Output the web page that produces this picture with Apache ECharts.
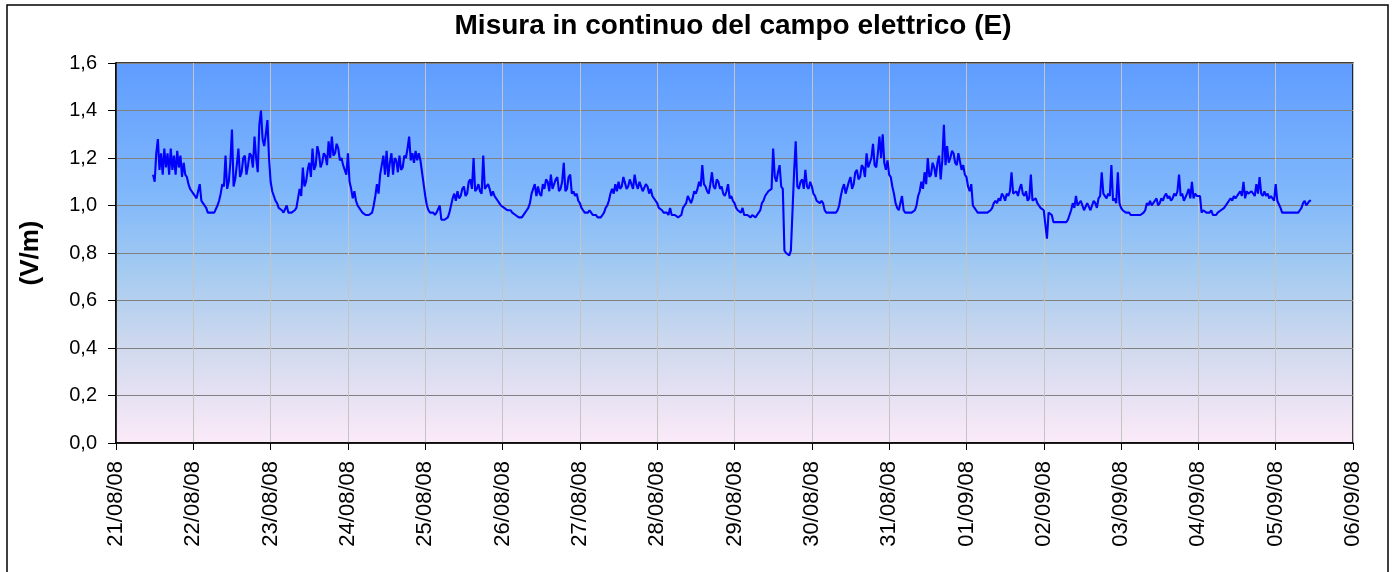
<!DOCTYPE html>
<html><head><meta charset="utf-8">
<script src="https://cdn.jsdelivr.net/npm/echarts@6/dist/echarts.min.js"></script>
<style>html,body{margin:0;padding:0;background:#fff}#c{width:1392px;height:572px}</style>
</head><body><div id="c"></div>
<script>
// ---- data (half-hourly readings, V/m; index = half-hour of the day) ----
const titleText = 'Misura in continuo del campo elettrico (E)';
const yAxisName = '(V/m)';
const dateLabels = ['21/08/08','22/08/08','23/08/08','24/08/08','25/08/08','26/08/08','27/08/08','28/08/08',
  '29/08/08','30/08/08','31/08/08','01/09/08','02/09/08','03/09/08','04/09/08','05/09/08','06/09/08'];

const d21_08 = [null,null,null,null,null,null,null,null,null,null,null,null,null,null,null,null,null,null,null,null,null,null,null,
  1.13, 1.10,1.22, 1.28,1.15, 1.22,1.13, 1.24,1.16, 1.22,1.13, 1.24,1.15, 1.21,1.13, 1.23,1.16, 1.21,1.12, 1.18,1.13, 1.12,1.09, 1.07,1.06];
const d22_08 = [1.05,1.04, 1.03,1.06, 1.09,1.02, 1.01,1.00, 0.99,0.97, 0.97,0.97, 0.97,0.97, 0.97,1.00,
  1.02,1.05, 1.09,1.08, 1.21,1.07, 1.10,1.18, 1.32,1.08, 1.11,1.17, 1.24,1.12, 1.14,1.20,
  1.21,1.13, 1.17,1.22, 1.21,1.16, 1.29,1.20, 1.14,1.34, 1.40,1.28, 1.25,1.30, 1.36,1.20];
const d23_08 = [1.10,1.06, 1.04,1.02, 1.01,0.99, 0.99,0.98, 0.97,0.97, 1.00,0.97, 0.97,0.97, 0.97,0.98,
  0.99,1.03, 1.07,1.04, 1.16,1.08, 1.10,1.15, 1.18,1.12, 1.24,1.15, 1.17,1.25, 1.22,1.16,
  1.18,1.22, 1.21,1.17, 1.27,1.20, 1.29,1.21, 1.22,1.26, 1.24,1.19, 1.20,1.17, 1.15,1.13];
const d24_08 = [1.22,1.10, 1.07,1.03, 1.06,1.02, 1.00,0.99, 0.98,0.97, 0.97,0.96, 0.96,0.96, 0.96,0.97,
  1.00,1.04, 1.09,1.05, 1.13,1.17, 1.21,1.13, 1.23,1.12, 1.18,1.22, 1.13,1.20, 1.19,1.14,
  1.21,1.15, 1.16,1.21, 1.20,1.24, 1.29,1.19, 1.22,1.18, 1.23,1.19, 1.22,1.19, 1.14,1.09];
const d25_08 = [1.04,1.00, 0.98,0.97, 0.97,0.97, 0.96,0.97, 0.97,1.00, 0.94,0.94, 0.94,0.94, 0.95,0.97,
  1.00,1.03, 1.05,1.02, 1.06,1.03, 1.04,1.07, 1.08,1.04, 1.05,1.10, 1.11,1.07, 1.20,1.06,
  1.07,1.09, 1.06,1.05, 1.21,1.07, 1.07,1.09, 1.07,1.04, 1.06,1.04, 1.03,1.02, 1.01,1.00];
const d26_08 = [1.00,0.99, 0.99,0.98, 0.98,0.98, 0.97,0.97, 0.96,0.96, 0.95,0.95, 0.95,0.95, 0.97,0.98,
  0.99,1.01, 1.05,1.07, 1.09,1.04, 1.08,1.05, 1.04,1.09, 1.07,1.11, 1.10,1.06, 1.13,1.07,
  1.07,1.11, 1.12,1.06, 1.07,1.10, 1.18,1.06, 1.07,1.12, 1.13,1.05, 1.06,1.04, 1.05,1.02];
const d27_08 = [1.01,0.99, 0.98,0.97, 0.97,0.97, 0.98,0.97, 0.96,0.96, 0.96,0.95, 0.95,0.95, 0.96,0.97,
  0.99,1.00, 1.02,1.05, 1.07,1.05, 1.09,1.06, 1.10,1.07, 1.08,1.12, 1.12,1.07, 1.08,1.11,
  1.11,1.07, 1.13,1.09, 1.07,1.10, 1.10,1.06, 1.06,1.09, 1.08,1.05, 1.07,1.04, 1.04,1.02];
const d28_08 = [1.01,0.99, 0.99,0.98, 0.97,0.97, 0.97,0.96, 0.99,0.96, 0.96,0.96, 0.96,0.95, 0.95,0.96,
  0.99,1.00, 1.01,1.04, 1.04,1.01, 1.03,1.06, 1.05,1.07, 1.10,1.08, 1.17,1.09, 1.08,1.06,
  1.05,1.09, 1.14,1.08, 1.07,1.11, 1.10,1.07, 1.08,1.05, 1.04,1.06, 1.09,1.03, 1.04,1.02];
const d29_08 = [1.01,0.99, 0.98,0.98, 0.97,0.99, 0.96,0.96, 0.96,0.96, 0.95,0.96, 0.96,0.95, 0.96,0.97,
  0.98,1.01, 1.02,1.04, 1.04,1.06, 1.06,1.07, 1.24,1.12, 1.10,1.14, 1.17,1.08, 1.07,0.81,
  0.80,0.80, 0.79,0.81, 0.81,1.14, 1.27,1.08, 1.07,1.10, 1.11,1.07, 1.15,1.08, 1.07,1.10];
const d30_08 = [1.08,1.05, 1.04,1.02, 1.02,1.01, 1.02,1.01, 0.98,0.97, 0.97,0.97, 0.97,0.97, 0.97,0.97,
  0.98,1.00, 1.04,1.07, 1.09,1.05, 1.05,1.10, 1.12,1.07, 1.09,1.14, 1.15,1.11, 1.12,1.17,
  1.16,1.12, 1.22,1.16, 1.18,1.20, 1.26,1.17, 1.16,1.22, 1.29,1.20, 1.30,1.18, 1.15,1.19];
const d31_08 = [1.13,1.12, 1.08,1.05, 1.01,0.99, 0.98,0.98, 1.04,0.98, 0.97,0.97, 0.97,0.97, 0.97,0.97,
  0.98,1.00, 1.04,1.06, 1.10,1.07, 1.14,1.09, 1.20,1.12, 1.13,1.18, 1.16,1.12, 1.18,1.21,
  1.11,1.19, 1.34,1.17, 1.25,1.18, 1.20,1.23, 1.22,1.18, 1.17,1.22, 1.22,1.15, 1.17,1.13];
const d01_09 = [1.12,1.08, 1.06,1.09, 1.00,0.99, 0.98,0.97, 0.97,0.97, 0.97,0.97, 0.97,0.97, 0.97,0.98,
  0.99,1.01, 1.02,1.01, 1.03,1.02, 1.05,1.04, 1.02,1.05, 1.04,1.06, 1.14,1.05, 1.05,1.06,
  1.04,1.07, 1.09,1.05, 1.04,1.06, 1.02,1.03, 1.13,1.02, 1.02,1.03, 1.01,1.00, 0.99,0.99];
const d02_09 = [0.98,0.98, 0.86,0.97, 0.97,0.96, 0.93,0.93, 0.93,0.93, 0.93,0.93, 0.93,0.93, 0.93,0.94,
  0.96,0.98, 1.01,0.99, 1.04,1.00, 1.00,1.02, 1.02,0.98, 0.98,1.01, 1.01,0.98, 0.98,1.02,
  1.01,0.99, 1.03,1.04, 1.14,1.05, 1.05,1.03, 1.05,1.04, 1.17,1.02, 1.03,1.01, 1.14,1.01];
const d03_09 = [0.99,0.98, 0.98,0.97, 0.97,0.97, 0.96,0.96, 0.96,0.96, 0.96,0.96, 0.96,0.96, 0.97,0.98,
  1.01,1.00, 1.02,1.00, 1.01,1.02, 1.03,1.00, 1.01,1.03, 1.02,1.04, 1.05,1.03, 1.04,1.02,
  1.03,1.05, 1.04,1.06, 1.13,1.04, 1.05,1.02, 1.02,1.05, 1.07,1.03, 1.10,1.03, 1.05,1.04];
const d04_09 = [1.04,1.04, 0.97,0.98, 0.98,0.97, 0.97,0.97, 0.98,0.96, 0.96,0.96, 0.97,0.97, 0.98,0.98,
  0.99,1.00, 1.01,1.02, 1.03,1.02, 1.04,1.03, 1.04,1.05, 1.06,1.04, 1.10,1.03, 1.06,1.05,
  1.05,1.06, 1.06,1.04, 1.09,1.05, 1.12,1.05, 1.04,1.06, 1.04,1.05, 1.03,1.04, 1.03,1.02];
const d05_09 = [1.09,1.02, 1.02,0.99, 0.97,0.97, 0.97,0.97, 0.97,0.97, 0.97,0.97, 0.97,0.97, 0.97,0.98,
  0.99,1.01, 1.02,1.00, 1.01,1.02, 1.02];

const days = [d21_08,d22_08,d23_08,d24_08,d25_08,d26_08,d27_08,d28_08,d29_08,d30_08,d31_08,d01_09,d02_09,d03_09,d04_09,d05_09];
const seriesData = [];
days.forEach((arr, d) => arr.forEach((v, i) => { if (v != null) seriesData.push([d * 24 + i * 0.5, v]); }));

const FONT = "'Liberation Sans', Arial, sans-serif";
const chart = echarts.init(document.getElementById('c'), null, {renderer: 'canvas'});
chart.setOption({
  animation: false,
  backgroundColor: '#fff',
  title: {
    text: titleText, left: 733, top: 12, textAlign: 'center', padding: 0,
    textStyle: {fontFamily: FONT, fontWeight: 'bold', fontSize: 28, color: '#000'}
  },
  graphic: [{
    type: 'rect', shape: {x: 7, y: 5, width: 1381, height: 600},
    style: {fill: 'none', stroke: '#000', lineWidth: 1.5}, silent: true, z: 100
  }],
  grid: {
    left: 116, right: 39, top: 63, bottom: 129, show: true,
    borderColor: '#000', borderWidth: 1.5,
    backgroundColor: {type: 'linear', x: 0, y: 0, x2: 0, y2: 1, colorStops: [
      {offset: 0, color: '#5F9CFF'}, {offset: 0.35, color: '#80B8FB'},
      {offset: 0.55, color: '#A5CBF0'}, {offset: 0.75, color: '#D0D9EE'}, {offset: 1, color: '#FCEAF8'}]}
  },
  xAxis: {
    type: 'value', min: 0, max: 384, interval: 24,
    axisLine: {lineStyle: {color: '#000', width: 1.5}},
    axisTick: {length: 7, lineStyle: {color: '#000'}},
    splitLine: {show: true, lineStyle: {color: '#C4C4C4', width: 1}},
    axisLabel: {rotate: 90, margin: 18, fontFamily: FONT, fontSize: 22, color: '#000',
      formatter: v => dateLabels[Math.round(v / 24)]}
  },
  yAxis: {
    type: 'value', min: 0, max: 1.6, interval: 0.2,
    name: yAxisName, nameLocation: 'middle', nameRotate: 90, nameGap: 72,
    nameTextStyle: {fontFamily: FONT, fontWeight: 'bold', fontSize: 26, color: '#000'},
    axisLine: {show: true, lineStyle: {color: '#000', width: 1.5}},
    axisTick: {show: true, length: 8, lineStyle: {color: '#000'}},
    splitLine: {show: true, lineStyle: {color: '#808080', width: 1}},
    axisLabel: {margin: 19, fontFamily: FONT, fontSize: 20, color: '#000',
      formatter: v => v.toFixed(1).replace('.', ',')}
  },
  series: [{
    type: 'line', data: seriesData, showSymbol: false, symbol: 'none',
    lineStyle: {color: '#0000FF', width: 2.1}, sampling: null, z: 3
  }]
});
</script></body></html>
